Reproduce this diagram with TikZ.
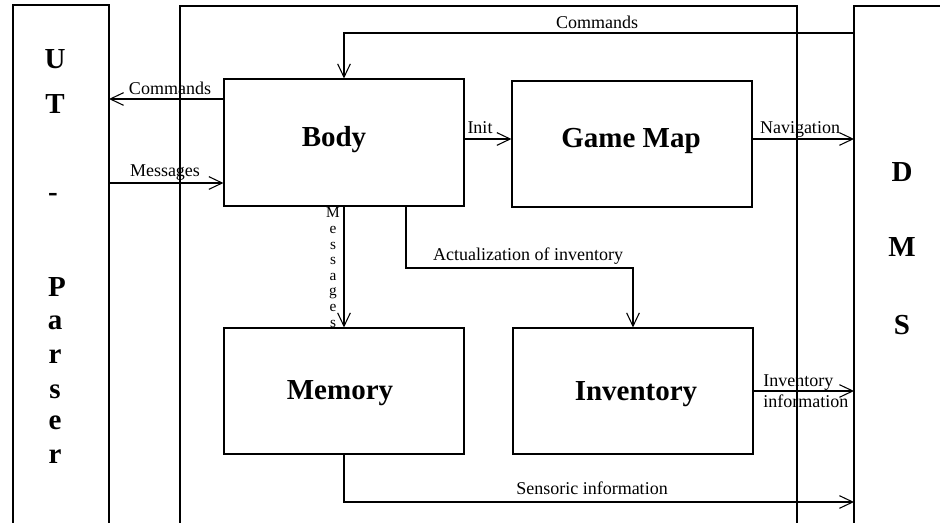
\documentclass[tikz,border=0pt]{standalone}
\usepackage{fontspec}
\setmainfont{Liberation Serif}
\usetikzlibrary{arrows.meta,fit}
\tikzset{
  ln/.style={line width=0.8pt},
  arr/.style={ln, -{Straight Barb[length=10pt,width=9.5pt]}},
  modbox/.style={draw, line width=0.8pt, inner sep=0pt},
  bigtxt/.style={font=\fontsize{21.75}{26}\selectfont\bfseries, anchor=base, inner sep=0pt},
  lbl/.style={font=\fontsize{13.5}{16}\selectfont, anchor=base, inner sep=0pt},
  vlbl/.style={font=\fontsize{11.5}{13}\selectfont, anchor=base, inner sep=0pt},
}
\begin{document}
\begin{tikzpicture}[x=0.75pt,y=-0.75pt]
\useasboundingbox (0,0) rectangle (940,523);
% outer open boxes
\draw[ln] (13,523) -- (13,5) -- (109,5) -- (109,523);
\draw[ln] (180,523) -- (180,6) -- (797,6) -- (797,523);
\draw[ln] (854,523) -- (854,6) -- (940,6);
% module boxes
\node[modbox, fit={(224,79) (464,206)}] (body) {};
\node[modbox, fit={(512,81) (752,207)}] (gmap) {};
\node[modbox, fit={(224,328) (464,454)}] (mem) {};
\node[modbox, fit={(513,328) (753,454)}] (inv) {};
\node[bigtxt] (tbody) at (334,147) {Body};
\node[bigtxt] (tgmap) at (631,148) {Game Map};
\node[bigtxt] (tmem) at (340,400) {Memory};
\node[bigtxt] (tinv) at (636,401) {Inventory};
% side letters
\node[bigtxt] (u1) at (55,69) {U};
\node[bigtxt] (u2) at (55,114) {T};
\node[bigtxt] (u3) at (53,202) {-};
\node[bigtxt] (u4) at (57,297) {P};
\node[bigtxt] (u5) at (55,330) {a};
\node[bigtxt] (u6) at (55,364) {r};
\node[bigtxt] (u7) at (55,399) {s};
\node[bigtxt] (u8) at (55,430) {e};
\node[bigtxt] (u9) at (55,464) {r};
\node[bigtxt] (d1) at (902,182) {D};
\node[bigtxt] (d2) at (902,257) {M};
\node[bigtxt] (d3) at (902,335) {S};
% connector end points
\coordinate (dmsC) at (854,33);
\coordinate (utC) at (109,99);
\coordinate (utM) at (109,183);
\coordinate (initY) at (0,139);
\coordinate (dmsL) at (854,0);
\coordinate (actX) at (406,0);
\coordinate (actY) at (0,268);
\coordinate (sensY) at (0,502);
% connectors
\draw[arr] (dmsC) -| (body.north);
\draw[arr] (body.west |- utC) -- (utC);
\draw[arr] (utM) -- (body.west |- utM);
\draw[arr] (body.east |- initY) -- (gmap.west |- initY);
\draw[arr] (gmap.east |- initY) -- (dmsL |- initY);
\draw[arr] (body.south) -- (mem.north);
\draw[arr] (body.south -| actX) -- (actX |- actY) -| (inv.north);
\draw[arr] (inv.east) -- (inv.east -| dmsL);
\draw[arr] (mem.south) -- (mem.south |- sensY) -- (dmsL |- sensY);
% labels
\node[lbl] (lc1) at (597,29) {Commands};
\node[lbl] (lc2) at (170,95) {Commands};
\node[lbl] (lm1) at (165,177) {Messages};
\node[lbl] (li) at (480,134) {Init};
\node[lbl] (ln) at (800,134) {Navigation};
\node[lbl] (la) at (528,261) {Actualization of inventory};
\node[lbl, anchor=base west] (lii1) at (763,387) {Inventory};
\node[lbl, anchor=base west] (lii2) at (763,408) {information};
\node[lbl] (ls) at (592,495) {Sensoric information};
\foreach \c [count=\i from 0] in {M,e,s,s,a,g,e,s}
  \node[vlbl] (msg\i) at (333,218+15.6*\i) {\c};
\end{tikzpicture}
\end{document}
